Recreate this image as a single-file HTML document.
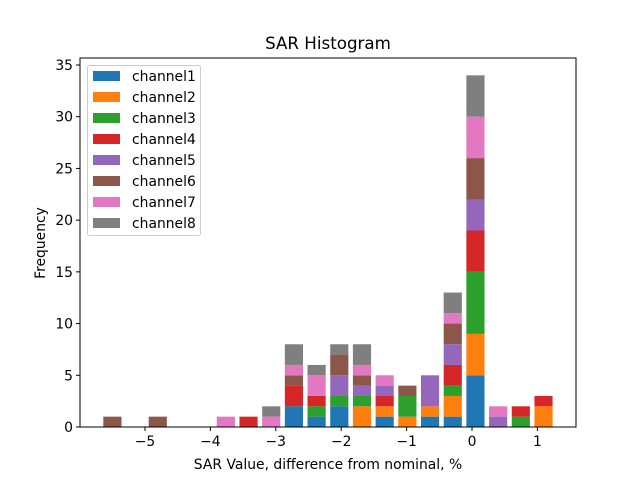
<!DOCTYPE html>
<html><head><meta charset="utf-8"><style>body{margin:0;background:#fff}svg{display:block;font-family:"DejaVu Sans","Liberation Sans",sans-serif}</style></head>
<body>
<svg id="c" width="640" height="480" xmlns="http://www.w3.org/2000/svg"></svg>
<script>
const binCount = 20;
const seriesNames = ["channel1","channel2","channel3","channel4","channel5","channel6","channel7","channel8"];
const colors = ["#1f77b4","#ff7f0e","#2ca02c","#d62728","#9467bd","#8c564b","#e377c2","#7f7f7f"];
const ch1 = [0,0,0,0,0,0,0,0,2,1,2,0,1,0,1,1,5,0,0,0];
const ch2 = [0,0,0,0,0,0,0,0,0,0,0,2,1,1,1,2,4,0,0,2];
const ch3 = [0,0,0,0,0,0,0,0,0,1,1,1,0,2,0,1,6,0,1,0];
const ch4 = [0,0,0,0,0,0,1,0,2,1,0,0,1,0,0,2,4,0,1,1];
const ch5 = [0,0,0,0,0,0,0,0,0,0,2,1,1,0,3,2,3,1,0,0];
const ch6 = [1,0,1,0,0,0,0,0,1,0,2,1,0,1,0,2,4,0,0,0];
const ch7 = [0,0,0,0,0,1,0,1,1,2,0,1,1,0,0,1,4,1,0,0];
const ch8 = [0,0,0,0,0,0,0,1,2,1,1,2,0,0,0,2,4,0,0,0];
const series = [ch1,ch2,ch3,ch4,ch5,ch6,ch7,ch8];
const binMin = -5.672, binMax = 1.267;
const xTicks = [-5,-4,-3,-2,-1,0,1];
const yTicks = [0,5,10,15,20,25,30,35];

const L=80,R=576,T=58,B=427;
const x0px=472, pxPerUnit=65.4;
const X = v => x0px + v*pxPerUnit;
const Y = v => B - v*(B-65)/35;
const svg=document.getElementById('c');
const NS="http://www.w3.org/2000/svg";
function mk(tag,attrs,parent){const e=document.createElementNS(NS,tag);for(const k in attrs)e.setAttribute(k,attrs[k]);(parent||svg).appendChild(e);return e;}

const bg=mk('rect',{x:0,y:0,width:640,height:480,fill:'#fff'});



const w=(binMax-binMin)/binCount;
const barsG=mk('g',{});


for(let i=0;i<binCount;i++){
  const c=binMin+(i+0.5)*w;
  const bx=X(c-0.4*w), bw=X(c+0.4*w)-X(c-0.4*w);
  let acc=0;
  for(let s=0;s<series.length;s++){
    const v=series[s][i];
    if(v>0){
      const r=mk('rect',{x:bx,y:Y(acc+v),width:bw,height:Y(acc)-Y(acc+v),fill:colors[s]},barsG);
      
      
    }
    acc+=v;
  }
}

const frame=mk('rect',{x:L,y:T,width:R-L,height:B-T,fill:'none',stroke:'#000','stroke-width':1});



xTicks.forEach(t=>{
  const px=X(t);
  mk('line',{x1:px,x2:px,y1:B,y2:B+4,stroke:'#000'});
  const tx=mk('text',{x:px,y:B+19,'text-anchor':'middle','font-size':13.9});
  tx.textContent=(t<0?'\u2212'+(-t):t);
  
  
});
yTicks.forEach(t=>{
  const py=Y(t);
  mk('line',{x1:L-4,x2:L,y1:py,y2:py,stroke:'#000'});
  const tx=mk('text',{x:L-7,y:py+5,'text-anchor':'end','font-size':13.9});
  tx.textContent=t;
  
  
});

const title=mk('text',{x:328,y:49,'text-anchor':'middle','font-size':16.7});
title.textContent='SAR Histogram';


const xl=mk('text',{x:328,y:469,'text-anchor':'middle','font-size':13.9});
xl.textContent='SAR Value, difference from nominal, %';


const yl=mk('text',{x:45,y:243,'text-anchor':'middle','font-size':13.9,transform:'rotate(-90 45 243)'});
yl.textContent='Frequency';



const lg=mk('g',{});


mk('rect',{x:87.5,y:65.5,width:113,height:170,rx:2,fill:'#fff','fill-opacity':0.8,stroke:'#ccc'},lg);
seriesNames.forEach((n,s)=>{
  const cy=76+s*21;
  const e=mk('g',{},lg);
  
  
  mk('rect',{x:93,y:cy-5,width:27,height:10,fill:colors[s]},e);
  const t=mk('text',{x:132,y:cy+5,'font-size':13.9},e);
  t.textContent=n;
});
</script>
</body></html>
